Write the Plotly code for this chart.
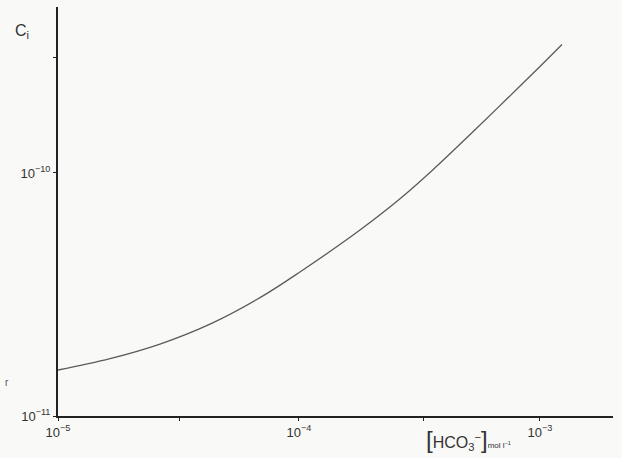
import plotly.graph_objects as go

# Data (log-log)
hco3 = [1.0e-5, 1.643e-5, 2.65e-5, 4.272e-5, 6.889e-5, 1.009e-4, 1.791e-4, 2.625e-4,
        3.597e-4, 5.272e-4, 7.295e-4, 1.0e-3, 1.234e-3]
ci = [1.546e-11, 1.722e-11, 1.977e-11, 2.388e-11, 3.069e-11, 3.914e-11, 5.825e-11, 7.829e-11,
      1.031e-10, 1.477e-10, 2.019e-10, 2.743e-10, 3.379e-10]

x_tickvals = [1e-5, 3.2e-5, 1e-4, 3.3e-4, 1e-3]
x_ticktext = ["10<sup>−5</sup>", "", "10<sup>−4</sup>", "", "10<sup>−3</sup>"]
y_tickvals = [1e-11, 1e-10, 3e-10]
y_ticktext = ["10<sup>−11</sup>", "10<sup>−10</sup>", ""]

bg = "#f9f9f7"
fig = go.Figure()
fig.add_trace(go.Scatter(x=hco3, y=ci, mode="lines",
                         line=dict(color="#5a5a5a", width=1.3, shape="spline", smoothing=1.0),
                         showlegend=False, hoverinfo="skip"))

fig.update_layout(
    width=622, height=458,
    margin=dict(l=58, r=9, t=7, b=42),
    paper_bgcolor=bg, plot_bgcolor=bg,
    font=dict(family="Liberation Sans, Arial, sans-serif", color="#333", size=13),
    xaxis=dict(type="log", range=[-5, -2.697], showgrid=False, zeroline=False,
               showline=True, linecolor="#222", linewidth=2,
               ticks="outside", ticklen=3, tickcolor="#222", tickwidth=1,
               tickvals=x_tickvals, ticktext=x_ticktext,
               tickfont=dict(size=13, color="#333")),
    yaxis=dict(type="log", range=[-11, -9.317], showgrid=False, zeroline=False,
               showline=True, linecolor="#222", linewidth=2,
               ticks="outside", ticklen=3, tickcolor="#222", tickwidth=1,
               tickvals=y_tickvals, ticktext=y_ticktext,
               tickfont=dict(size=13, color="#333")),
    annotations=[
        dict(text="C<sub>i</sub>", xref="paper", yref="paper",
             x=-0.065, y=0.939, xanchor="center", yanchor="middle", showarrow=False,
             font=dict(size=16, color="#333")),
        dict(text="<span style='font-size:24px'>[</span>HCO<sub>3</sub><sup>−</sup>"
                  "<span style='font-size:24px'>]</span>"
                  "<span style='font-size:8px'>mol l<sup>−1</sup></span>",
             xref="paper", yref="paper", x=0.74, y=-0.02,
             xanchor="center", yanchor="top", showarrow=False,
             font=dict(size=16, color="#333")),
        dict(text="r", xref="paper", yref="paper", x=-0.092, y=0.081,
             xanchor="center", yanchor="middle", showarrow=False,
             font=dict(size=10, color="#555555")),
    ],
)

fig.write_html("out.html")
